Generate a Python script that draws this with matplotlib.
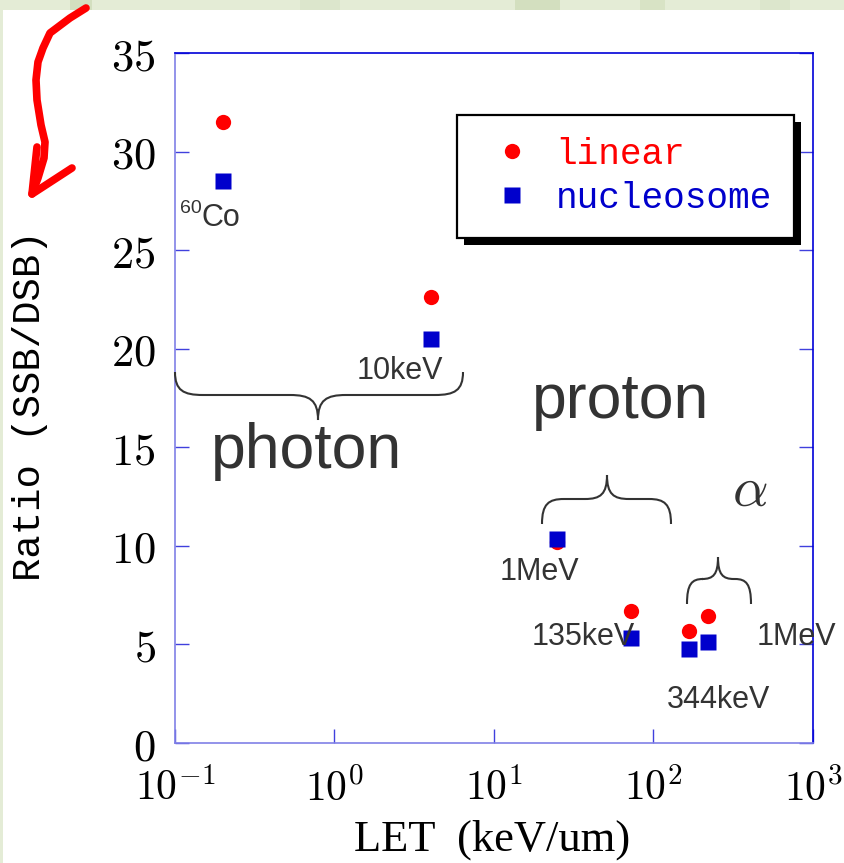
import matplotlib
matplotlib.use("Agg")
import matplotlib.pyplot as plt
from matplotlib.patches import Rectangle, PathPatch
from matplotlib.path import Path
from matplotlib.lines import Line2D
from matplotlib.ticker import NullLocator
from matplotlib.transforms import Affine2D, IdentityTransform

W, H = 845, 863

# values
let_kev_um = [0.2, 4.0, 25.0, 72.0, 167.0, 220.0]
ratio_linear = [31.5, 22.6, 10.2, 6.7, 5.7, 6.45]
ratio_nucleosome = [28.5, 20.5, 10.35, 5.35, 4.75, 5.1]
series_names = ["linear", "nucleosome"]
series_colors = ["#ff0000", "#0000cc"]

y_ticks = [0, 5, 10, 15, 20, 25, 30, 35]
x_ticks = [0.1, 1, 10, 100, 1000]
x_tick_labels = [r"$10^{-1}$", r"$10^{0}$", r"$10^{1}$", r"$10^{2}$", r"$10^{3}$"]

plt.rcParams["mathtext.fontset"] = "cm"

fig = plt.figure(figsize=(W / 100, H / 100), dpi=100, facecolor="#e4ecd6")
# pixel coordinates, origin top-left
px = Affine2D().scale(1 / W, -1 / H).translate(0, 1) + fig.transFigure

# slide background: green frame with a few stripes, white page
for x0, wd, c in [(70, 22, "#d3dfbf"), (300, 40, "#dce6cc"), (515, 45, "#d3dfbf"),
                  (640, 25, "#d8e3c5"), (760, 30, "#dce6cc")]:
    fig.add_artist(Rectangle((x0, 0), wd, 10, transform=px, fc=c, ec="none", zorder=-11))
fig.add_artist(Rectangle((3, 10), W - 3, H - 10, transform=px, fc="white", ec="none", zorder=-10))

ax = fig.add_axes([175 / W, 1 - 743 / H, (813 - 175) / W, (743 - 53) / H])
ax.set_xscale("log")
ax.set_xlim(0.1, 1000)
ax.set_ylim(0, 35)

ax.plot(let_kev_um, ratio_linear, "o", color=series_colors[0], ms=11, mec="none",
        label=series_names[0], zorder=3)
ax.plot(let_kev_um, ratio_nucleosome, "s", color=series_colors[1], ms=11, mec="none",
        label=series_names[1], zorder=3)

for side in ["left", "bottom"]:
    ax.spines[side].set_color("#8080e6")
    ax.spines[side].set_linewidth(1.2)
for side in ["top", "right"]:
    ax.spines[side].set_color("#0000d8")
    ax.spines[side].set_linewidth(1.2)

ax.set_xticks(x_ticks, x_tick_labels)
ax.xaxis.set_minor_locator(NullLocator())
ax.set_yticks(y_ticks, [f"${v}$" for v in y_ticks])
ax.tick_params(axis="both", direction="in", length=10, width=1, color="#4040dd",
               labelcolor="black")
ax.tick_params(axis="y", right=True, labelsize=32, pad=14)
ax.tick_params(axis="x", top=False, labelsize=30, pad=18)

leg = ax.legend(loc="upper left", bbox_to_anchor=(457 / W, 1 - 115 / H),
                bbox_transform=fig.transFigure,
                prop={"family": "Liberation Mono", "size": 26},
                fancybox=False, edgecolor="black", framealpha=1,
                borderpad=0.61, handlelength=1.82, handletextpad=0.3,
                labelspacing=0.24, borderaxespad=0)
leg.get_frame().set_linewidth(1.6)
for t, c in zip(leg.get_texts(), series_colors):
    t.set_color(c)

fig.canvas.draw()
bb = leg.get_frame().get_window_extent()
ax.add_patch(Rectangle((bb.x0 + 7, bb.y0 - 7), bb.width, bb.height,
                       transform=IdentityTransform(), fc="black", ec="none",
                       zorder=leg.get_zorder() - 0.1, clip_on=False))

# axis titles
fig.text(30, 406, "Ratio (SSB/DSB)", transform=px, rotation=90, ha="center",
         va="center", family="Liberation Mono", size=28)
fig.text(492, 840, "LET  (keV/um)", transform=px, ha="center", va="center",
         family="Liberation Serif", size=32)

# annotations
gray = "#333333"
sans = "Liberation Sans"


def note(x, y, s, size=22, ha="left"):
    fig.text(x, y, s, transform=px, ha=ha, va="baseline", family=sans,
             size=size, color=gray)


note(202, 213, "60", size=14, ha="right")
note(202, 226, "Co")
note(357, 379, "10keV")
note(500, 580, "1MeV")
note(532, 645, "135keV")
note(757, 645, "1MeV")
note(667, 708, "344keV")
note(307, 468, "photon", size=45, ha="center")
note(621, 418, "proton", size=45, ha="center")
fig.text(750, 491, r"$\alpha$", transform=px, ha="center", va="center",
         size=40, color=gray)


def brace(x0, x1, xt, ye, ym, yt, r):
    verts = [(x0, ye),
             (x0, ye + (ym - ye) * 0.8), (x0 + r * 0.3, ym), (x0 + r, ym),
             (xt - r, ym),
             (xt - r * 0.3, ym), (xt, ym + (yt - ym) * 0.2), (xt, yt),
             (xt, ym + (yt - ym) * 0.2), (xt + r * 0.3, ym), (xt + r, ym),
             (x1 - r, ym),
             (x1 - r * 0.3, ym), (x1, ye + (ym - ye) * 0.8), (x1, ye)]
    codes = [Path.MOVETO] + [Path.CURVE4] * 3 + [Path.LINETO] + [Path.CURVE4] * 6 \
        + [Path.LINETO] + [Path.CURVE4] * 3
    fig.add_artist(PathPatch(Path(verts, codes), transform=px, fill=False,
                             ec=gray, lw=1.5))


brace(175, 463, 318, 372, 395, 420, 28)
brace(542, 671, 607, 524, 499, 475, 22)
brace(687, 751, 718, 604, 579, 557, 16)

# red hand-drawn arrow
arrow_x = [86, 70, 50, 43, 38, 36, 37, 41, 45, 44, 38, 32]
arrow_y = [8, 18, 33, 48, 62, 80, 100, 125, 142, 158, 178, 194]
fig.add_artist(Line2D(arrow_x, arrow_y, transform=px, color="#ff0000", lw=5.5,
                      solid_capstyle="round", solid_joinstyle="round"))
fig.add_artist(Line2D([37, 32, 72], [147, 194, 168], transform=px, color="#ff0000",
                      lw=5.5, solid_capstyle="round", solid_joinstyle="round"))

fig.savefig("out.png", dpi=100, facecolor=fig.get_facecolor())
